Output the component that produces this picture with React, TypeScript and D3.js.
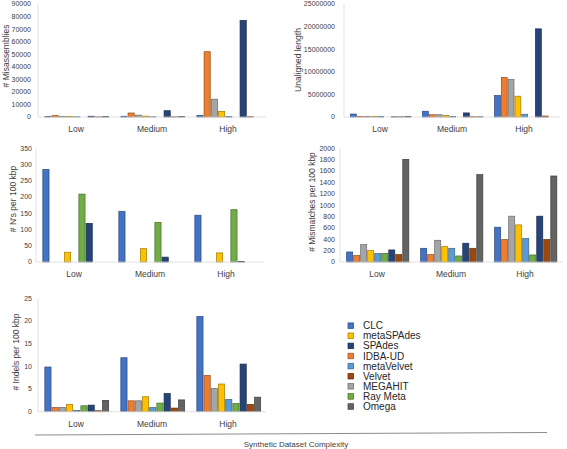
import React from "react";
import * as d3 from "d3";

const categories = ["Low", "Medium", "High"];
const seriesNames = ["CLC", "IDBA-UD", "MEGAHIT", "metaSPAdes", "metaVelvet", "Ray Meta", "SPAdes", "Velvet", "Omega"];
const seriesColors = ["#4472C4", "#ED7D31", "#A5A5A5", "#FFC000", "#5B9BD5", "#70AD47", "#264478", "#9E480E", "#636363"];
const legendOrder = ["CLC", "metaSPAdes", "SPAdes", "IDBA-UD", "metaVelvet", "Velvet", "MEGAHIT", "Ray Meta", "Omega"];

// values per series: [Low, Medium, High]
const misassemblies = [
  [300, 600, 1300],
  [1200, 3200, 52000],
  [500, 1500, 14200],
  [400, 700, 4500],
  [200, 200, 500],
  [0, 0, 0],
  [600, 5000, 77000],
  [100, 100, 200],
  [400, 500, 0],
];
const unaligned = [
  [650000, 1270000, 4750000],
  [150000, 500000, 8750000],
  [150000, 500000, 8300000],
  [100000, 350000, 4600000],
  [80000, 100000, 600000],
  [0, 0, 0],
  [50000, 900000, 19500000],
  [50000, 50000, 200000],
  [100000, 50000, 0],
];
const nsPer100 = [
  [285, 156, 144],
  [0, 0, 0],
  [0, 0, 0],
  [30, 41, 28],
  [0, 0, 0],
  [209, 122, 161],
  [119, 15, 2],
  [0, 0, 0],
  [0, 0, 0],
];
const mismatches = [
  [176, 241, 612],
  [112, 130, 394],
  [306, 382, 806],
  [200, 270, 653],
  [147, 241, 412],
  [153, 106, 124],
  [212, 330, 806],
  [130, 241, 394],
  [1806, 1537, 1513],
];
const indels = [
  [9.85, 11.9, 21],
  [0.9, 2.4, 8.0],
  [0.95, 2.4, 5.1],
  [1.6, 3.3, 6.1],
  [0.3, 0.9, 2.7],
  [1.3, 1.9, 1.8],
  [1.45, 4.0, 10.5],
  [0.2, 0.8, 1.6],
  [2.5, 2.6, 3.2],
];

const FONT = "'Liberation Sans', Arial, sans-serif";
const TXT = "#404040";

type PanelProps = {
  data: number[][];
  x0: number; x1: number; yTop: number; yBase: number;
  max: number; step: number;
  title: string; titleX: number; titleY: number;
  labelRight: number;
};

function Panel({ data, x0, x1, yTop, yBase, max, step, title, titleX, titleY, labelRight }: PanelProps) {
  const y = d3.scaleLinear().domain([0, max]).range([yBase, yTop]);
  const xg = d3.scaleBand<string>().domain(categories).range([x0, x1]).paddingInner(0).paddingOuter(0);
  const W = xg.bandwidth();
  const xs = d3.scaleBand<string>().domain(seriesNames).range([W * 0.09, W * 0.93]).paddingInner(0.14).paddingOuter(0);
  const ticks = d3.range(0, max + step / 2, step);
  return (
    <g>
      <line x1={x0} x2={x0} y1={yTop} y2={yBase} stroke="#d9d9d9" strokeWidth={0.8} />
      {ticks.map((t) => (
        <text key={t} x={labelRight} y={y(t)} dy="0.35em" textAnchor="end" fontSize={7} fill={TXT} fontFamily={FONT}>
          {t}
        </text>
      ))}
      {categories.map((c, ci) =>
        seriesNames.map((s, si) => {
          const v = data[si][ci];
          if (!v) return null;
          const col = seriesColors[si];
          return (
            <rect
              key={c + s}
              x={(xg(c) as number) + (xs(s) as number)}
              y={y(v)}
              width={xs.bandwidth()}
              height={yBase - y(v)}
              fill={col}
              stroke={d3.color(col)!.darker(1.3).formatHex()}
              strokeWidth={0.7}
            />
          );
        })
      )}
      <line x1={x0} x2={x1} y1={yBase} y2={yBase} stroke="#d9d9d9" strokeWidth={0.8} />
      {categories.map((c) => (
        <text key={c} x={(xg(c) as number) + W / 2} y={yBase + 12} dy="0.35em" textAnchor="middle" fontSize={8.5} fill={TXT} fontFamily={FONT}>
          {c}
        </text>
      ))}
      <text
        transform={`translate(${titleX},${titleY}) rotate(-90)`}
        textAnchor="middle"
        dy="0.35em"
        fontSize={8.5}
        fill={TXT}
        fontFamily={FONT}
      >
        {title}
      </text>
    </g>
  );
}

export default function App() {
  return (
    <svg width={567} height={449} style={{ position: "absolute", left: 0, top: 0, background: "#fff" }}>
      <Panel data={misassemblies} x0={38} x1={266} yTop={4} yBase={117} max={90000} step={10000}
        title="# Misassemblies" titleX={6} titleY={56} labelRight={31} />
      <Panel data={unaligned} x0={344} x1={560} yTop={4} yBase={117} max={25000000} step={5000000}
        title="Unaligned length" titleX={298} titleY={60} labelRight={335} />
      <Panel data={nsPer100} x0={36} x1={264} yTop={148.3} yBase={262} max={350} step={50}
        title="# N's per 100 kbp" titleX={13} titleY={199} labelRight={32} />
      <Panel data={mismatches} x0={340} x1={562} yTop={148.3} yBase={262} max={2000} step={200}
        title="# Mismatches per 100 kbp" titleX={312} titleY={202} labelRight={335} />
      <Panel data={indels} x0={38} x1={266} yTop={298.3} yBase={411.7} max={25} step={5}
        title="# Indels per 100 kbp" titleX={16} titleY={352} labelRight={32} />
      {legendOrder.map((name, i) => {
        const col = seriesColors[seriesNames.indexOf(name)];
        const ly = 325.7 + i * 10.1;
        return (
          <g key={name}>
            <rect x={348} y={ly - 2.8} width={5.6} height={5.6} fill={col} stroke={d3.color(col)!.darker(1.3).formatHex()} strokeWidth={0.7} />
            <text x={363} y={ly} dy="0.35em" fontSize={10} fill="#262626" fontFamily={FONT}>{name}</text>
          </g>
        );
      })}
      <line x1={35} y1={435} x2={547} y2={432.5} stroke="#8c8c8c" strokeWidth={1} />
      <text x={296} y={444} dy="0.35em" textAnchor="middle" fontSize={8} fill={TXT} fontFamily={FONT}>
        Synthetic Dataset Complexity
      </text>
    </svg>
  );
}
